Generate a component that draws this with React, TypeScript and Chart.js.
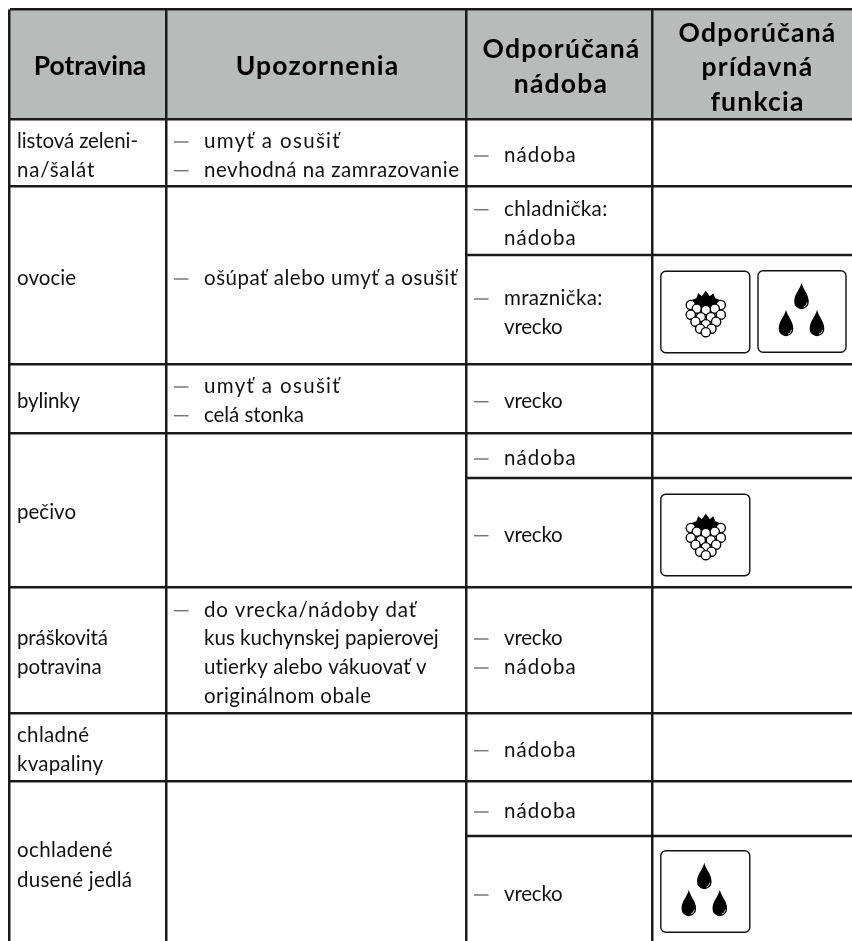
import React, { useEffect, useRef } from "react";
import { Chart, registerables } from "chart.js";

Chart.register(...registerables);

// ---- table content ----
const headerLabels = ["Potravina", "Upozornenia", "Odporúčaná", "nádoba", "Odporúčaná", "prídavná", "funkcia"];
const foodLines = ["listová zeleni-", "na/šalát", "ovocie", "bylinky", "pečivo", "práškovitá", "potravina", "chladné", "kvapaliny", "ochladené", "dusené jedlá"];
const noteLines = ["umyť a osušiť", "nevhodná na zamrazovanie", "ošúpať alebo umyť a osušiť", "umyť a osušiť", "celá stonka", "do vrecka/nádoby dať", "kus kuchynskej papierovej", "utierky alebo vákuovať v", "originálnom obale"];
const noteDashes = [true, true, true, true, true, true, false, false, false];
const boxLines = ["nádoba", "chladnička:", "nádoba", "mraznička:", "vrecko", "vrecko", "nádoba", "vrecko", "vrecko", "nádoba", "nádoba", "nádoba", "vrecko"];
const boxDashes = [true, true, false, true, false, true, true, true, true, true, true, true, true];
const iconKinds = ["berry", "drops", "berry", "drops"];

// ---- layout (axis units equal page pixels) ----
const columnEdges = [9.5, 166, 466, 652.5];
const rowEdges = [9.5, 119, 186.5, 364, 433, 587.5, 713, 781.5];
const subRowEdges = [255, 477.5, 836];
const headerX = [90, 317.5, 561.5, 561, 757.5, 757.5, 757.5];
const headerY = [75, 75, 58, 92.5, 41.5, 75.5, 110.5];
const headerTrack = [0, 1.2, 1.2, 1.2, 1.2, 1.2, 1.2];
const foodY = [148, 176.7, 285, 408, 519, 645, 674, 741.7, 770.7, 857, 886.7];
const foodEnd = [138, 94.3, 76, 80, 76, 108, 101.7, 89, 103, 112.5, 132];
const noteY = [148, 176.7, 285, 393, 421.7, 616.7, 645, 674, 702.7];
const noteEnd = [339.7, 459, 457, 339.7, 304, 416, 438.7, 427, 371];
const boxY = [162, 215.7, 245, 305, 334, 407.7, 465, 541.7, 645, 674, 756.7, 818, 901];
const boxEnd = [575.7, 607.3, 575.7, 602.3, 562.7, 562.7, 575.7, 562.7, 562.7, 575.7, 575.7, 575.7, 562.7];
const iconBoxX = [660.8, 758, 660.8, 660.8];
const iconBoxY = [271.3, 270.7, 494.3, 850.7];

const FONT = '"Lato"';
const BODY = `400 20.5px ${FONT}`;
const INK = "#1a1a1a";

const berryCircles = [
  [-15, 13.3], [15, 13.3], [-9, 17], [9, 17], [0, 18.3],
  [-15, 23], [15, 23], [-5, 25.5], [5, 25.5],
  [-10.3, 30], [10.3, 30], [0, 32.5],
  [-5.7, 37], [5.7, 37], [0, 40.5],
];
const crown = [
  [-19, 10], [-9.5, 6.5], [-7.5, 1.5], [-4, 4.5], [0, -1], [4, 4.5], [7.5, 1.5], [9.5, 6.5], [19, 10], [15, 20], [-15, 20],
];

function drawBerry(ctx: CanvasRenderingContext2D, cx: number, top: number) {
  ctx.fillStyle = "#000";
  ctx.beginPath();
  crown.forEach(([dx, dy], i) => (i ? ctx.lineTo(cx + dx, top + dy) : ctx.moveTo(cx + dx, top + dy)));
  ctx.closePath();
  ctx.fill();
  ctx.lineWidth = 1.4;
  ctx.strokeStyle = "#000";
  for (const [dx, dy] of berryCircles) {
    ctx.beginPath();
    ctx.arc(cx + dx, top + dy, 4.6, 0, Math.PI * 2);
    ctx.fillStyle = "#fff";
    ctx.fill();
    ctx.stroke();
  }
}

function drawDrop(ctx: CanvasRenderingContext2D, cx: number, top: number) {
  const h = 26.5;
  const r = 7.3;
  const cy = top + h - r;
  ctx.fillStyle = "#000";
  ctx.beginPath();
  ctx.moveTo(cx, top);
  ctx.bezierCurveTo(cx + 1.5, top + 7, cx + r, top + 11, cx + r, cy);
  ctx.arc(cx, cy, r, 0, Math.PI);
  ctx.bezierCurveTo(cx - r, top + 11, cx - 1.5, top + 7, cx, top);
  ctx.closePath();
  ctx.fill();
  ctx.strokeStyle = "#fff";
  ctx.lineWidth = 0.8;
  ctx.beginPath();
  ctx.arc(cx, cy, r - 1.6, 0.15, 1.2);
  ctx.stroke();
}

const tablePlugin = {
  id: "table",
  beforeDraw(chart: any) {
    const { ctx, scales } = chart;
    const { x, y } = scales;
    ctx.save();
    ctx.fillStyle = "#fff";
    ctx.fillRect(0, 0, chart.width, chart.height);
    ctx.fillStyle = "#b8bbbc";
    ctx.fillRect(x.getPixelForValue(columnEdges[0]), y.getPixelForValue(rowEdges[0]), x.getPixelForValue(852) - x.getPixelForValue(columnEdges[0]), y.getPixelForValue(rowEdges[1]) - y.getPixelForValue(rowEdges[0]));
    ctx.restore();
  },
  afterDraw(chart: any) {
    const { ctx, scales } = chart;
    const { x, y } = scales;
    const px = (v: number) => x.getPixelForValue(v);
    const py = (v: number) => y.getPixelForValue(v);
    ctx.save();

    // partial rules spanning the last two columns
    ctx.strokeStyle = INK;
    ctx.lineWidth = 2.5;
    for (const e of subRowEdges) {
      ctx.beginPath();
      ctx.moveTo(px(columnEdges[2]), Math.round(py(e)));
      ctx.lineTo(px(852), Math.round(py(e)));
      ctx.stroke();
    }

    ctx.textAlign = "center";
    ctx.textBaseline = "alphabetic";
    ctx.fillStyle = "#000";
    ctx.font = `700 26.5px ${FONT}`;
    headerLabels.forEach((t, i) => {
      ctx.letterSpacing = `${headerTrack[i]}px`;
      ctx.fillText(t, px(headerX[i]), py(headerY[i]));
    });

    ctx.textAlign = "left";
    // each line is tracked so it ends where the same line ends in the reference
    const text = (t: string, xv: number, yv: number, end: number) => {
      ctx.font = BODY;
      ctx.fillStyle = "#111";
      ctx.letterSpacing = "0px";
      const w = ctx.measureText(t).width;
      ctx.letterSpacing = `${(end - xv - w) / Math.max(1, t.length - 1)}px`;
      ctx.fillText(t, px(xv), py(yv));
    };
    const dash = (xv: number, yv: number) => {
      ctx.strokeStyle = "#777";
      ctx.lineWidth = 1.5;
      ctx.beginPath();
      ctx.moveTo(px(xv), py(yv - 6));
      ctx.lineTo(px(xv + 14.5), py(yv - 6));
      ctx.stroke();
    };
    foodLines.forEach((t, i) => text(t, 17, foodY[i], foodEnd[i]));
    noteLines.forEach((t, i) => {
      if (noteDashes[i]) dash(174, noteY[i]);
      text(t, 204, noteY[i], noteEnd[i]);
    });
    boxLines.forEach((t, i) => {
      if (boxDashes[i]) dash(474, boxY[i]);
      text(t, 504, boxY[i], boxEnd[i]);
    });
    ctx.letterSpacing = "0px";

    iconKinds.forEach((kind, i) => {
      const bx = px(iconBoxX[i]);
      const by = py(iconBoxY[i]);
      const w = kind === "drops" && i === 1 ? 88 : 89;
      ctx.strokeStyle = "#111";
      ctx.lineWidth = 1.4;
      ctx.beginPath();
      ctx.roundRect(bx, by, w, 81.5, 5);
      ctx.stroke();
      if (kind === "berry") {
        drawBerry(ctx, bx + 45, by + 20.4);
      } else {
        drawDrop(ctx, bx + 43.5, by + 12);
        drawDrop(ctx, bx + 28, by + 39);
        drawDrop(ctx, bx + 59, by + 39);
      }
    });
    ctx.restore();
  },
};

export default function App() {
  const ref = useRef<HTMLCanvasElement>(null);
  useEffect(() => {
    document.body.style.margin = "0";
    document.body.style.overflow = "hidden";
    const chart = new Chart(ref.current!, {
      type: "scatter",
      data: { datasets: [{ data: [] }] },
      plugins: [tablePlugin as any],
      options: {
        animation: false,
        responsive: false,
        layout: { padding: { left: columnEdges[0], top: rowEdges[0], right: 0, bottom: 0 } },
        plugins: { legend: { display: false }, tooltip: { enabled: false } },
        scales: {
          x: {
            type: "linear",
            min: columnEdges[0],
            max: 852,
            border: { display: false },
            ticks: { display: false },
            grid: { color: INK, lineWidth: 2.5, drawTicks: false },
            afterBuildTicks: (s: any) => {
              s.ticks = columnEdges.map((value) => ({ value }));
            },
          },
          y: {
            type: "linear",
            min: rowEdges[0],
            max: 941,
            reverse: true,
            border: { display: false },
            ticks: { display: false },
            grid: { color: INK, lineWidth: 2.5, drawTicks: false },
            afterBuildTicks: (s: any) => {
              s.ticks = rowEdges.map((value) => ({ value }));
            },
          },
        },
      },
    });
    return () => {
      chart.destroy();
    };
  }, []);
  return (
    <div style={{ position: "fixed", left: 0, top: 0, width: 852, height: 941, overflow: "hidden", background: "#fff" }}>
      <canvas ref={ref} width={852} height={941} style={{ display: "block" }} />
    </div>
  );
}
